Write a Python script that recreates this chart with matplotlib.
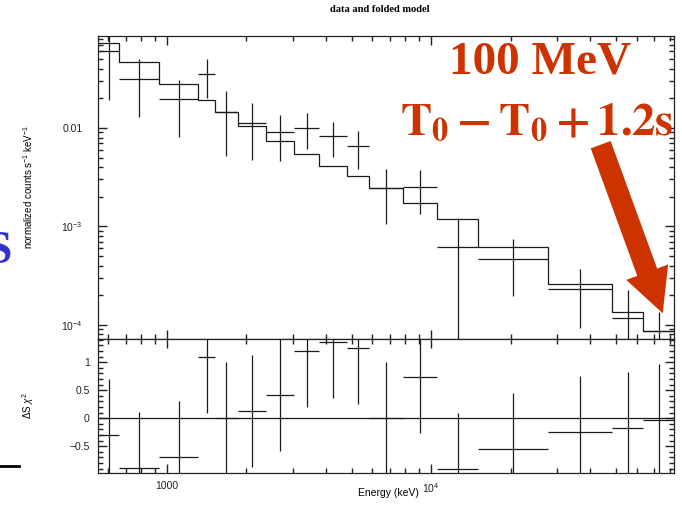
import numpy as np
import matplotlib
matplotlib.use('Agg')
import matplotlib.pyplot as plt
from matplotlib.ticker import MultipleLocator, FixedLocator, FixedFormatter, NullFormatter
from matplotlib.patches import Polygon
from matplotlib.lines import Line2D

plt.rcParams['font.family'] = ['Liberation Sans', 'DejaVu Sans']
plt.rcParams['mathtext.fontset'] = 'custom'
plt.rcParams['mathtext.rm'] = 'Liberation Sans'
plt.rcParams['mathtext.it'] = 'Liberation Sans:italic'
plt.rcParams['mathtext.bf'] = 'Liberation Sans:bold'

# ---- data ----
bin_edges_kev = [548, 659, 933, 1314, 1520, 1853, 2366, 3033, 3776, 4797,
                 5821, 7855, 10510, 15100, 27660, 48350, 63660, 83200]
counts = [0.0601, 0.0314, 0.01955, 0.0353, 0.01453, 0.01132, 0.00917, 0.01007,
          0.00823, 0.00656, 0.00246, 0.00254, 0.000624, 0.000471, 0.000232,
          0.0001186, 0.0000875]
counts_err = [0.041, 0.0185, 0.0115, 0.015, 0.0093, 0.0066, 0.0045, 0.004,
              0.0032, 0.0027, 0.0014, 0.0012, 0.0006, 0.000275, 0.000138,
              0.000108, 0.0000487]
model = [0.0724, 0.0471, 0.0278, 0.01923, 0.01443, 0.01048, 0.00743, 0.00541,
         0.00414, 0.00328, 0.00244, 0.00172, 0.00118, 0.000615, 0.000261,
         0.0001365, 0.0000875]
residuals = [-0.30, -0.88, -0.70, 1.09, 0.0, 0.13, 0.42, 1.20, 1.37, 1.25,
             0.0, 0.73, -0.90, -0.54, -0.25, -0.18, -0.03]
residual_err = [1.0] * len(residuals)

upper_ytick_vals = [1e-4, 1e-3, 1e-2]
upper_ytick_labels = [r'$10^{-4}$', r'$10^{-3}$', '0.01']
lower_ytick_vals = [-0.5, 0, 0.5, 1]
lower_ytick_labels = ['\u22120.5', '0', '0.5', '1']
xtick_vals = [1000, 10000]
xtick_labels = ['1000', r'$10^{4}$']

# ---- figure ----
W, H = 682, 508
fig = plt.figure(figsize=(W / 100, H / 100), dpi=100)

def px(x0, y0, x1, y1):
    return [x0 / W, 1 - y1 / H, (x1 - x0) / W, (y1 - y0) / H]

ax1 = fig.add_axes(px(98, 36, 674, 339))
ax2 = fig.add_axes(px(98, 339, 674, 473))

edges = np.array(bin_edges_kev, dtype=float)
lo, hi = edges[:-1], edges[1:]
centers = np.sqrt(lo * hi)
xerr = [centers - lo, hi - centers]

lc = '#1a1a1a'
lw = 0.9

ax1.stairs(model, edges, baseline=None, color=lc, lw=lw)
ax1.errorbar(centers, counts, xerr=xerr, yerr=counts_err, fmt='none',
             ecolor=lc, elinewidth=lw, capsize=0)
ax1.set_yscale('log')
ax1.set_ylim(7.2e-5, 0.0859)

ax2.errorbar(centers, residuals, xerr=xerr, yerr=residual_err, fmt='none',
             ecolor=lc, elinewidth=lw, capsize=0)
ax2.axhline(0, color=lc, lw=lw)
ax2.set_ylim(-0.977, 1.416)

def log_minors(d0, d1):
    return [m * 10.0 ** d for d in range(d0, d1) for m in range(2, 10)]

for ax in (ax1, ax2):
    ax.set_xscale('log')
    ax.set_xlim(548, 83200)
    for s in ax.spines.values():
        s.set_linewidth(0.9)
        s.set_color('#222222')
    ax.xaxis.set_major_locator(FixedLocator(xtick_vals))
    ax.xaxis.set_minor_locator(FixedLocator(log_minors(2, 5)))
    ax.xaxis.set_minor_formatter(NullFormatter())
    ax.tick_params(which='both', direction='in', top=True, right=True,
                   bottom=True, left=True, labelsize=7.5, width=1.0,
                   color='#222222', labelcolor='#222222')
    ax.tick_params(which='major', length=6.5)
    ax.tick_params(which='minor', length=3.5)

ax1.yaxis.set_major_locator(FixedLocator(upper_ytick_vals))
ax1.yaxis.set_major_formatter(FixedFormatter(upper_ytick_labels))
ax1.yaxis.set_minor_locator(FixedLocator(log_minors(-5, -1)))
ax1.yaxis.set_minor_formatter(NullFormatter())
ax1.tick_params(axis='x', which='both', labelbottom=False)
ax1.tick_params(axis='y', which='major', pad=11)

ax2.xaxis.set_major_formatter(FixedFormatter(xtick_labels))
ax2.yaxis.set_major_locator(FixedLocator(lower_ytick_vals))
ax2.yaxis.set_major_formatter(FixedFormatter(lower_ytick_labels))
ax2.yaxis.set_minor_locator(MultipleLocator(0.1))
ax2.yaxis.set_minor_formatter(NullFormatter())
ax2.tick_params(axis='y', which='major', pad=6)
ax2.tick_params(axis='x', which='major', pad=6)

fig.text(28.5 / W, 1 - 187 / H, r'normalized counts s$^{-1}$ keV$^{-1}$',
         rotation=90, ha='center', va='center', fontsize=7)
fig.text(28.5 / W, 1 - 406 / H, r'$\Delta$S $\chi^{2}$',
         rotation=90, ha='center', va='center', fontsize=7)
fig.text(388 / W, 1 - 493 / H, 'Energy (keV)', ha='center', va='center',
         fontsize=7.5)
fig.text(380 / W, 1 - 10 / H, 'data and folded model', ha='center',
         va='center', fontsize=7.6, fontweight='bold',
         family=['Liberation Serif', 'DejaVu Serif'])

# ---- slide annotations ----
red = '#cc3300'
fig.text(540 / W, 1 - 62 / H, '100 MeV', ha='center', va='center',
         fontsize=34, fontweight='bold', color=red,
         family=['Liberation Serif', 'DejaVu Serif'])
fig.text(537 / W, 1 - 135 / H, r'$\mathbf{T_0 - T_0 + 1.2s}$', ha='center',
         va='baseline', fontsize=33.5, color=red, math_fontfamily='stix')

arrow_px = [(590.75, 148.36), (610.65, 141.04), (657.15, 268.54),
            (668.14, 264.51), (662.7, 313.3), (626.26, 279.89),
            (637.25, 275.86)]
fig.add_artist(Polygon([(x / W, 1 - y / H) for x, y in arrow_px],
                       closed=True, facecolor=red, edgecolor='none',
                       transform=fig.transFigure))

fig.text(12 / W, 1 - 252 / H, 'S', ha='right', va='center', fontsize=34,
         fontweight='bold', color='#3333cc',
         family=['Liberation Serif', 'DejaVu Serif'])
fig.add_artist(Line2D([0, 19 / W], [1 - 466 / H, 1 - 466 / H], color='black',
                      lw=2, transform=fig.transFigure))

fig.savefig('out.png', dpi=100)
